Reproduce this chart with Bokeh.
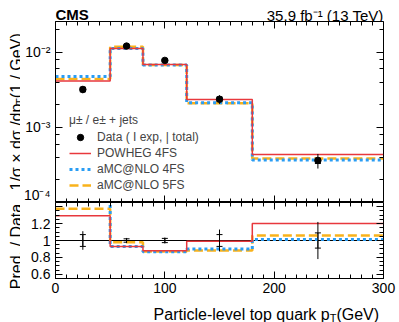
import numpy as np
from math import pi
from bokeh.plotting import figure
from bokeh.layouts import column, row
from bokeh.models import (Range1d, LinearAxis, LogAxis, LogTicker, SingleIntervalTicker,
                          CustomJSTickFormatter, Legend, LegendItem, Whisker, TeeHead,
                          Span, ColumnDataSource)
from bokeh.core.properties import value
from bokeh.embed import file_html
from bokeh.resources import INLINE

# ---------------- data ----------------
bin_edges = [0, 50, 80, 120, 180, 300]
bin_centers = [25, 65, 100, 150, 240]
data_xsec = [0.0032, 0.0121, 0.0078, 0.00237, 0.000363]
data_rel_exp = [0.07, 0.02, 0.025, 0.07, 0.09]
data_rel_tot = [0.11, 0.03, 0.035, 0.13, 0.22]
powheg_4fs = [0.00414, 0.01125, 0.00686, 0.00235, 0.000436]
amcnlo_4fs = [0.00475, 0.01125, 0.00675, 0.00213, 0.000367]
amcnlo_5fs = [0.0044, 0.01186, 0.00679, 0.00209, 0.000385]

X_MIN, X_MAX = 0, 300
Y1_MIN, Y1_MAX = 1e-4, 0.0257
Y2_MIN, Y2_MAX = 0.55, 1.45

FONT = "Liberation Sans"
RED = "#e8383d"
BLUE = "#2a9df4"
ORANGE = "#f9b21b"

# layout constants (pixels)
FW = 328          # frame width
BL = 35           # left border of every panel
BR = 14           # right border of every panel
YT_W = 20         # width of the y-title strip
H_HEAD, H_TOP, H_RAT, B_RAT, H_XT = 21, 181, 76, 26, 18

data_arr = np.array(data_xsec)
rel_exp = np.array(data_rel_exp)
rel_tot = np.array(data_rel_tot)

blank_fmt = CustomJSTickFormatter(code="return '';")


def step_y(vals):
    v = list(vals)
    return v + [v[-1]]


def style_axis(ax, loc=None, labels=True, size="14px", standoff=5):
    if loc is not None:
        ax.fixed_location = loc
    ax.axis_label = None
    ax.axis_line_color = "black"
    ax.major_tick_line_color = "black"
    ax.minor_tick_line_color = "black"
    ax.major_tick_in = 7
    ax.major_tick_out = 0
    ax.minor_tick_in = 4
    ax.minor_tick_out = 0
    if labels:
        ax.major_label_text_font = FONT
        ax.major_label_text_font_size = size
        ax.major_label_text_color = "black"
        ax.major_label_standoff = standoff
    else:
        ax.formatter = blank_fmt
        ax.major_label_standoff = 0


def panel_fig(fh, bottom, **kw):
    f = figure(width=BL + FW + BR, height=fh + bottom, frame_width=FW, frame_height=fh,
               min_border_left=BL, min_border_right=BR, min_border_top=0, min_border_bottom=bottom,
               output_backend="svg", toolbar_location=None, **kw)
    f.grid.visible = False
    f.background_fill_color = "white"
    f.border_fill_color = "white"
    return f


def strip_fig(fh):
    """text strip sharing the panels' border structure; data units = pixels of its frame"""
    f = panel_fig(fh, 0, x_range=Range1d(0, FW), y_range=Range1d(0, fh),
                  x_axis_type=None, y_axis_type=None)
    f.outline_line_color = None
    return f


def txt(f, x, y, text, size, angle=0.0, align="left", style="normal"):
    f.text(x=[x], y=[y], text=[text], angle=angle, text_font=value(FONT),
           text_font_size=value(size), text_font_style=style, text_align=align,
           text_baseline="alphabetic", text_color="black")


log_fmt = CustomJSTickFormatter(code="""
const sup = {'-':'\u207b','0':'\u2070','1':'\u00b9','2':'\u00b2','3':'\u00b3','4':'\u2074','5':'\u2075'};
const e = Math.round(Math.log10(tick));
return '10' + String(e).split('').map(c => sup[c]).join('');
""")
ratio_fmt = CustomJSTickFormatter(code="""
if (tick > 1.3) return '';
if (Math.abs(tick - 1) < 1e-6) return '1';
return tick.toFixed(1);
""")

x_range = Range1d(X_MIN, X_MAX)

# ---------------- top panel ----------------
p1 = panel_fig(H_TOP, 0, x_range=x_range, y_range=Range1d(Y1_MIN, Y1_MAX), y_axis_type="log")
p1.outline_line_color = "black"

p1.xaxis.ticker = SingleIntervalTicker(interval=100, num_minor_ticks=10)
style_axis(p1.xaxis[0], Y1_MIN, labels=False)
p1.yaxis.ticker = LogTicker()
p1.yaxis.formatter = log_fmt
style_axis(p1.yaxis[0], None, labels=True, size="14px", standoff=5)
top_ax = LinearAxis(ticker=SingleIntervalTicker(interval=100, num_minor_ticks=10))
style_axis(top_ax, Y1_MAX, labels=False)
p1.add_layout(top_ax, "above")
right_ax = LogAxis(ticker=LogTicker())
style_axis(right_ax, X_MAX, labels=False)
p1.add_layout(right_ax, "right")

r5 = p1.step(x=bin_edges, y=step_y(amcnlo_5fs), mode="after", line_color=ORANGE,
             line_width=2.5, line_dash="9 4")
r4 = p1.step(x=bin_edges, y=step_y(amcnlo_4fs), mode="after", line_color=BLUE,
             line_width=3, line_dash="3 3")
rp = p1.step(x=bin_edges, y=step_y(powheg_4fs), mode="after", line_color=RED,
             line_width=1.5)

src_top = ColumnDataSource(dict(x=bin_centers, y=data_xsec,
                                elo=list(data_arr * (1 - rel_exp)), ehi=list(data_arr * (1 + rel_exp)),
                                tlo=list(data_arr * (1 - rel_tot)), thi=list(data_arr * (1 + rel_tot))))
p1.segment(x0="x", y0="tlo", x1="x", y1="thi", source=src_top, line_color="black", line_width=1)
p1.add_layout(Whisker(source=src_top, base="x", lower="elo", upper="ehi", dimension="height",
                      line_color="black", line_width=1,
                      lower_head=TeeHead(size=6, line_color="black"),
                      upper_head=TeeHead(size=6, line_color="black")))
rd = p1.scatter(x="x", y="y", source=src_top, size=6.5, color="black")

legend = Legend(items=[LegendItem(label="Data ( I exp, | total)", renderers=[rd]),
                       LegendItem(label="POWHEG 4FS", renderers=[rp]),
                       LegendItem(label="aMC@NLO 4FS", renderers=[r4]),
                       LegendItem(label="aMC@NLO 5FS", renderers=[r5])],
                location=(14, 9), title="μ± / e± + jets",
                title_text_font=FONT, title_text_font_size="12px", title_text_font_style="normal",
                label_text_font=FONT, label_text_font_size="12px",
                glyph_width=22, glyph_height=16, label_height=16, label_standoff=6,
                spacing=0, padding=0, margin=0, title_standoff=2,
                background_fill_alpha=0, border_line_alpha=0)
p1.add_layout(legend)

# ---------------- ratio panel ----------------
p2 = panel_fig(H_RAT, B_RAT, x_range=x_range, y_range=Range1d(Y2_MIN, Y2_MAX))
p2.outline_line_color = "black"

p2.xaxis.ticker = SingleIntervalTicker(interval=100, num_minor_ticks=10)
style_axis(p2.xaxis[0], None, labels=True, size="14px", standoff=4)
p2.yaxis.ticker = SingleIntervalTicker(interval=0.2, num_minor_ticks=4)
p2.yaxis.formatter = ratio_fmt
style_axis(p2.yaxis[0], None, labels=True, size="14px", standoff=5)
top2 = LinearAxis(ticker=SingleIntervalTicker(interval=100, num_minor_ticks=10))
style_axis(top2, Y2_MAX, labels=False)
p2.add_layout(top2, "above")
right2 = LinearAxis(ticker=SingleIntervalTicker(interval=0.2, num_minor_ticks=4))
style_axis(right2, X_MAX, labels=False)
p2.add_layout(right2, "right")

p2.add_layout(Span(location=1, dimension="width", line_color="black", line_width=1, level="underlay"))

p2.step(x=bin_edges, y=step_y(np.array(amcnlo_5fs) / data_arr), mode="after", line_color=ORANGE,
        line_width=2.5, line_dash="9 4")
p2.step(x=bin_edges, y=step_y(np.array(amcnlo_4fs) / data_arr), mode="after", line_color=BLUE,
        line_width=3, line_dash="3 3")
p2.step(x=bin_edges, y=step_y(np.array(powheg_4fs) / data_arr), mode="after", line_color=RED,
        line_width=1.5)

src_r = ColumnDataSource(dict(x=bin_centers,
                              elo=list(1 - rel_exp), ehi=list(1 + rel_exp),
                              tlo=list(1 - rel_tot), thi=list(1 + rel_tot)))
p2.segment(x0="x", y0="tlo", x1="x", y1="thi", source=src_r, line_color="black", line_width=1)
p2.add_layout(Whisker(source=src_r, base="x", lower="elo", upper="ehi", dimension="height",
                      line_color="black", line_width=1,
                      lower_head=TeeHead(size=6, line_color="black"),
                      upper_head=TeeHead(size=6, line_color="black")))

# ---------------- text strips ----------------
header = strip_fig(H_HEAD)
txt(header, 0, 7, "CMS", "15px", style="bold")
txt(header, FW, 6, "35.9 fb\u207b\u00b9 (13 TeV)", "15px", align="right")

xtitle = strip_fig(H_XT)
w_gev = 47.1
w_t = 6.7
txt(xtitle, FW, 8, " (GeV)", "16px", align="right")
txt(xtitle, FW - w_gev - w_t, 5, "T", "11px")
txt(xtitle, FW - w_gev - w_t, 8, "Particle-level top quark p", "16px", align="right")

H_ALL = H_HEAD + H_TOP + H_RAT + B_RAT + H_XT
ytitle = figure(width=YT_W, height=H_ALL, x_range=Range1d(0, YT_W), y_range=Range1d(0, H_ALL),
                min_border=0, x_axis_type=None, y_axis_type=None,
                output_backend="svg", toolbar_location=None)
ytitle.outline_line_color = None
ytitle.background_fill_color = "white"
ytitle.border_fill_color = "white"
txt(ytitle, 16.3, 132, "1/σ × dσ /dp", "16px", angle=pi / 2)
txt(ytitle, 19.2, 132 + 85.6, "T", "11px", angle=pi / 2)
txt(ytitle, 16.3, 132 + 85.6 + 6.7, " (1 / GeV)", "16px", angle=pi / 2)
txt(ytitle, 16.3, 76, "Pred. / Data", "16px", angle=pi / 2, align="center")

layout = row(ytitle, column(header, p1, p2, xtitle, spacing=0), spacing=0)
open("out.html", "w").write(file_html(layout, INLINE))
